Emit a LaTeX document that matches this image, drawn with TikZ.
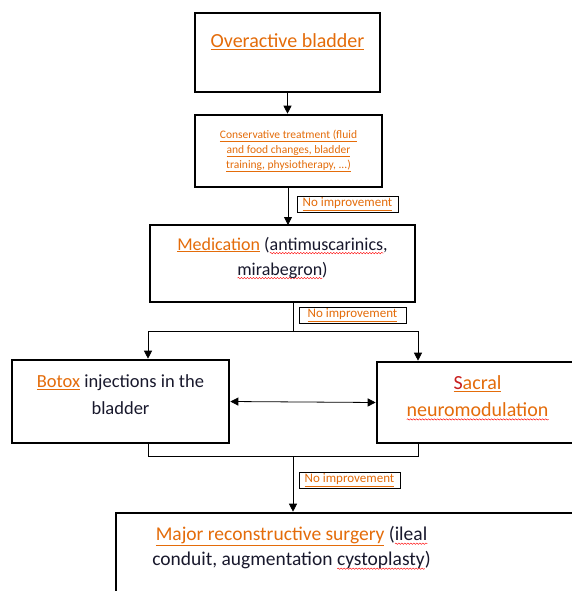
\documentclass[tikz,border=0pt]{standalone}
\usepackage{fontspec}
\setmainfont{Carlito}
\usetikzlibrary{arrows.meta,decorations.pathmorphing}
\definecolor{wordorange}{RGB}{228,108,10}
\definecolor{wordtext}{RGB}{24,24,44}
\definecolor{wordred}{RGB}{200,30,30}
\newsavebox\wavebox
\newlength\wavelen
\newcommand\orul[1]{\textcolor{wordorange}{\underline{#1}}}
\newcommand\redwave[1]{\sbox\wavebox{#1}\setlength\wavelen{\wd\wavebox}%
  \rlap{\tikz[baseline=0pt]\draw[red, line width=0.4pt, decorate,
    decoration={snake, amplitude=0.7pt, segment length=3pt}]
    (0pt,-3pt) -- (\wavelen,-3pt);}\usebox\wavebox}
\tikzset{
  flow box/.style={
    rectangle,
    draw=black,
    line width=2.6pt,
    align=center,
    inner sep=0pt,
    text=wordtext,
    minimum width=#1,
  },
  flow box/.default=200pt,
  note box/.style={
    rectangle,
    draw=black,
    line width=0.9pt,
    inner sep=0pt,
    minimum width=#1,
    minimum height=16pt,
    font=\fontsize{13}{14}\selectfont,
  },
  note box/.default=101pt,
  flow arrow/.style={-{Triangle[length=8pt,width=8pt]}, line width=0.8pt},
  flow line/.style={line width=0.8pt},
}
\begin{document}
\begin{tikzpicture}[x=1pt,y=-1pt]
\clip (0,0) rectangle (572,591);
\fill[white] (0,0) rectangle (572,591);
\node[flow box=185pt, minimum height=79pt, font=\fontsize{20}{22}\selectfont]
  (bladder) at (287.5,52.5) {\orul{Overactive bladder}\\[2pt]};
\node[flow box=187pt, minimum height=72pt, font=\fontsize{11.5}{15}\selectfont]
  (conserv) at (288.5,151) {\orul{Conservative treatment (fluid}\\
  \orul{and food changes, bladder}\\ \orul{training, physiotherapy, ...)}};
\node[flow box=265pt, minimum height=77pt, font=\fontsize{18}{25}\selectfont]
  (medic) at (282.5,263.5) {\orul{Medication} (\redwave{antimuscarinics},\\
  \redwave{mirabegron})\\[-10pt]};
\node[flow box=217pt, minimum height=83pt, font=\fontsize{18.5}{27}\selectfont]
  (botox) at (120.5,401.5) {\orul{Botox} injections in the\\ bladder\\[-14pt]};
\node[flow box=201pt, minimum height=81pt, font=\fontsize{20}{27}\selectfont]
  (sacral) at (477.5,402.5) {\textcolor{wordorange}{\underline{\textcolor{wordred}{S}acral}}\\
  \textcolor{wordorange}{\redwave{neuromodulation}}\\[-14pt]};
\node[flow box=470pt, minimum height=100pt] (surgery) at (351,563) {};
\node[align=center, inner sep=0pt, text=wordtext, font=\fontsize{19.5}{25}\selectfont]
  (surgtext) at (291.5,548) {\orul{Major reconstructive surgery} (\redwave{ileal}\\
  conduit, augmentation \redwave{cystoplasty})};
\node[note box] (note1) at (347.5,204) {\orul{No improvement}};
\node[note box=107pt] (note2) at (352.5,315) {\orul{No improvement}};
\node[note box] (note3) at (349.5,480) {\orul{No improvement}};
\coordinate (split) at (293,331);
\coordinate (splitl) at (148,331);
\coordinate (splitr) at (418,331);
\coordinate (join) at (293,456);
\coordinate (joinl) at (148,456);
\coordinate (joinr) at (418,456);
\draw[flow arrow] (bladder.south) -- (conserv.north -| bladder.south);
\draw[flow arrow] (288,187) -- (288,225);
\draw[flow line] (medic.south -| split) -- (split);
\draw[flow line] (splitl) -- (splitr);
\draw[flow arrow] (splitl) -- (splitl |- botox.north);
\draw[flow arrow] (splitr) -- (splitr |- sacral.north);
\draw[{Triangle[length=8pt,width=8pt]}-{Triangle[length=8pt,width=8pt]}, line width=0.8pt]
  (botox.east) -- (sacral.west);
\draw[flow line] (joinl |- botox.south) -- (joinl) -- (joinr) -- (joinr |- sacral.south);
\draw[flow arrow] (join) -- (join |- surgery.north);
\end{tikzpicture}
\end{document}
